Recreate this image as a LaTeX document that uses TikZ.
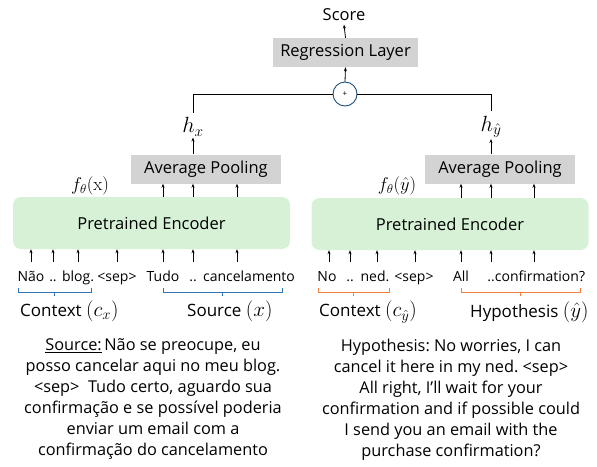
\RequirePackage{fix-cm}
\documentclass[tikz,border=0pt]{standalone}
\usepackage[no-math]{fontspec}
\setmainfont{Open Sans}
\usepackage{amsmath}
\usetikzlibrary{arrows.meta}
\tikzstyle{pixels} = [x = 1pt, y = -1pt]
\definecolor{boxGray}{RGB}{211,211,211}
\definecolor{encoderGreen}{RGB}{214,241,214}
\definecolor{braceBlue}{RGB}{46,117,182}
\definecolor{braceOrange}{RGB}{240,128,64}
\definecolor{sumBlue}{RGB}{31,78,121}
\tikzstyle{grayBox} = [fill=boxGray, minimum height=29, inner sep=0pt, font=\fontsize{16.5pt}{19pt}\selectfont]
\tikzstyle{encoderBox} = [fill=encoderGreen, rounded corners=8, minimum width=277, minimum height=52, font=\fontsize{16.5pt}{19pt}\selectfont]
\tikzstyle{tokenText} = [anchor=base, inner sep=0pt, font=\fontsize{14pt}{16pt}\selectfont]
\tikzstyle{labelText} = [inner sep=0pt, font=\fontsize{17pt}{20pt}\selectfont]
\tikzstyle{mathText} = [inner sep=1pt, font=\fontsize{18.5pt}{20pt}\selectfont]
\tikzstyle{paraText} = [anchor=north, inner sep=0pt, align=center, font=\fontsize{16.3pt}{21pt}\selectfont]
\tikzstyle{thinArrow} = [line width=0.8pt, -{Stealth[length=4pt, width=3pt]}]
\tikzstyle{thinLine} = [line width=0.9pt]
\newcommand{\labelMath}[1]{{\fontsize{21pt}{22pt}\selectfont$#1$}}
\newcommand{\tokenBrace}[3]{
  \pgfmathsetmacro{\braceMid}{(#1 + #2) / 2}
  \draw [thinLine, color=#3] (#1, 288) -- (#1, 292) -- (#2, 292) -- (#2, 288);
  \draw [thinLine, color=#3] (\braceMid, 292) -- (\braceMid, 296);
}
\frenchspacing

\begin{document}
\begin{tikzpicture}[pixels]
  \useasboundingbox (0,0) rectangle (597,466);

  % regression head
  \node [font=\fontsize{16.5pt}{19pt}\selectfont] (score) at (344,15) {Score};
  \node [grayBox, minimum width=145] (regression) at (345.5,52.5) {Regression Layer};
  \node [circle, draw=sumBlue, line width=0.9pt, minimum size=24, inner sep=0pt, font=\fontsize{8pt}{8pt}\selectfont] (plus) at (345,94) {+};
  \draw [thinArrow] (regression.north) -- (score.south);
  \draw [thinArrow] (plus.north) -- (regression.south);

  % two encoders with pooling
  \node [encoderBox] (encL) at (151.5,223) {Pretrained Encoder};
  \node [encoderBox] (encR) at (450,224) {Pretrained Encoder};
  \node [grayBox, minimum width=150] (poolL) at (206,169) {Average Pooling};
  \node [grayBox, minimum width=150] (poolR) at (500,169) {Average Pooling};
  \node [mathText, inner sep=0pt] (fx) at (90,186) {$f_\theta(\mathrm{x})$};
  \node [mathText, inner sep=0pt] (fy) at (397,186) {$f_\theta(\hat{y})$};

  \node [mathText, font=\fontsize{22pt}{24pt}\selectfont] (hx) at (193,127) {$h_x$};
  \node [mathText, font=\fontsize{22pt}{24pt}\selectfont] (hy) at (491,127) {$h_{\hat{y}}$};
  \draw [thinArrow] (hx |- poolL.north) -- (hx.south);
  \draw [thinArrow] (hy |- poolR.north) -- (hy.south);
  \draw [thinLine] ([yshift=4pt]hx.north) -- (hx.north |- plus.west) -- (plus.west);
  \draw [thinLine] ([yshift=4pt]hy.north) -- (hy.north |- plus.east) -- (plus.east);

  % input tokens
  \foreach \name/\xpos/\word in {nao/31/Não, dotsA/53/.., blog/78/blog., sepL/117/<sep>,
      tudo/163/Tudo, dotsB/193/.., cancel/249/cancelamento} {
    \node [tokenText] (\name) at (\xpos,281) {\word};
  }
  \foreach \name/\xpos/\word in {no/327/No, dotsC/350/.., ned/375/ned., sepR/414/<sep>,
      all/461/All, dotsD/491/.., confirm/540/confirmation?} {
    \node [tokenText] (\name) at (\xpos,281) {\word};
  }
  \foreach \name/\dx in {nao/0, dotsA/0, blog/0, sepL/0, tudo/0, dotsB/0, cancel/-12} {
    \draw [thinArrow] ([xshift=\dx]\name.base) ++(0,-19) -- ([xshift=\dx]\name.base |- encL.south);
  }
  \foreach \name/\dx in {no/2, dotsC/0, ned/2, sepR/1, all/0, dotsD/0, confirm/-6} {
    \draw [thinArrow] ([xshift=\dx]\name.base) ++(0,-19) -- ([xshift=\dx]\name.base |- encR.south);
  }
  \foreach \name/\dx in {tudo/0, dotsB/0, cancel/-12} {
    \draw [thinArrow] ([xshift=\dx]\name.base |- encL.north) -- ([xshift=\dx]\name.base |- poolL.south);
  }
  \foreach \name/\dx in {all/0, dotsD/0, confirm/-6} {
    \draw [thinArrow] ([xshift=\dx]\name.base |- encR.north) -- ([xshift=\dx]\name.base |- poolR.south);
  }

  % segment braces and their labels
  \tokenBrace{18}{91}{braceBlue}
  \tokenBrace{163}{282}{braceBlue}
  \tokenBrace{318}{389}{braceOrange}
  \tokenBrace{461}{580}{braceOrange}
  \node [labelText, anchor=west] (ctxL) at (20,311) {Context \labelMath{(c_x)}};
  \node [labelText, anchor=west] (srcL) at (187,311) {Source \labelMath{(x)}};
  \node [labelText, anchor=west] (ctxR) at (319,312) {Context \labelMath{(c_{\hat{y}})}};
  \node [labelText, anchor=west] (hypR) at (470,312) {Hypothesis \labelMath{(\hat{y})}};

  % example sentences
  \node [paraText] (srcText) at (153,338) {\underline{Source:}\,Não se preocupe, eu\\
    posso cancelar aqui no meu blog.\\
    <sep>\ \ Tudo certo, aguardo sua\\
    confirmação e se possível poderia\\
    enviar um email com a\\
    confirmação do cancelamento};
  \node [paraText] (hypText) at (451,339) {Hypothesis: No worries, I can\\
    cancel it here in my ned. <sep>\\
    All right, I'll wait for your\\
    confirmation and if possible could\\
    I send you an email with the\\
    purchase confirmation?};
\end{tikzpicture}
\end{document}
